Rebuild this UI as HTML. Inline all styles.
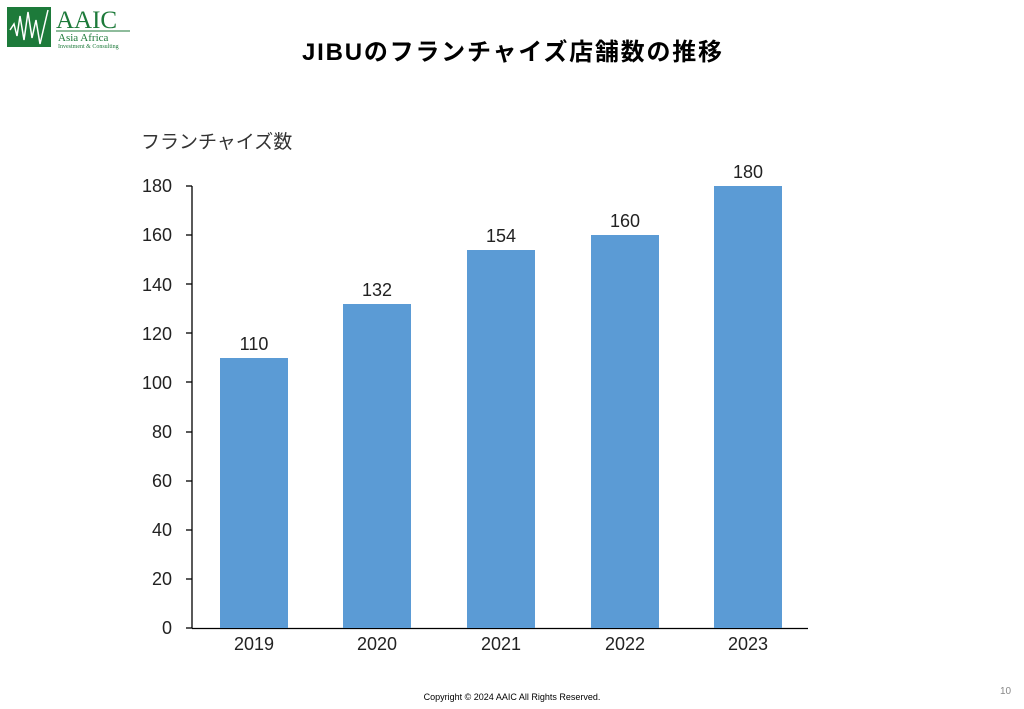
<!DOCTYPE html>
<html><head><meta charset="utf-8"><style>
body{margin:0;width:1024px;height:709px;background:#fff;overflow:hidden;position:relative;font-family:"Liberation Sans","Noto Sans CJK JP",sans-serif}
</style></head><body>
<svg width="1024" height="709" xmlns="http://www.w3.org/2000/svg" style="position:absolute;left:0;top:0">
<rect x="7" y="7" width="44" height="40" fill="#1d7a3a"/>
<polyline points="10,30 14,24 17,36 20,16 24,40 28,12 32,38 36,20 40,44 48,10" fill="none" stroke="#fff" stroke-width="1.5"/>
<text x="56" y="28" font-family="Liberation Serif,serif" font-size="25" fill="#1d7a3a">AAIC</text>
<line x1="56" y1="31" x2="130" y2="31" stroke="#1d7a3a" stroke-width="1"/>
<text x="58" y="41" font-family="Liberation Serif,serif" font-size="11" fill="#1d7a3a">Asia Africa</text>
<text x="58" y="48" font-family="Liberation Serif,serif" font-size="6" fill="#1d7a3a">Investment &amp; Consulting</text>
<text x="512" y="60" text-anchor="middle" font-size="24" font-weight="bold" fill="#000" textLength="420">JIBUのフランチャイズ店舗数の推移</text>
<text x="141" y="148" font-size="19" fill="#333">フランチャイズ数</text>
<g font-size="18" fill="#222" text-anchor="end">
<text x="172" y="634">0</text><text x="172" y="585">20</text><text x="172" y="536">40</text><text x="172" y="487">60</text><text x="172" y="438">80</text><text x="172" y="389">100</text><text x="172" y="340">120</text><text x="172" y="291">140</text><text x="172" y="241">160</text><text x="172" y="192">180</text>
</g>
<g stroke="#000" stroke-width="1.3">
<line x1="192" y1="186" x2="192" y2="628"/>
<line x1="192" y1="628.5" x2="808" y2="628.5"/>
<line x1="186" y1="186" x2="192" y2="186"/><line x1="186" y1="235" x2="192" y2="235"/><line x1="186" y1="284" x2="192" y2="284"/><line x1="186" y1="333" x2="192" y2="333"/><line x1="186" y1="382" x2="192" y2="382"/><line x1="186" y1="432" x2="192" y2="432"/><line x1="186" y1="481" x2="192" y2="481"/><line x1="186" y1="530" x2="192" y2="530"/><line x1="186" y1="579" x2="192" y2="579"/><line x1="186" y1="628" x2="192" y2="628"/>
</g>
<g fill="#5b9bd5">
<rect x="220" y="358" width="68" height="270"/>
<rect x="343" y="304" width="68" height="324"/>
<rect x="467" y="250" width="68" height="378"/>
<rect x="591" y="235" width="68" height="393"/>
<rect x="714" y="186" width="68" height="442"/>
</g>
<g font-size="18" fill="#222" text-anchor="middle">
<text x="254" y="350">110</text><text x="377" y="296">132</text><text x="501" y="242">154</text><text x="625" y="227">160</text><text x="748" y="178">180</text>
<text x="254" y="650">2019</text><text x="377" y="650">2020</text><text x="501" y="650">2021</text><text x="625" y="650">2022</text><text x="748" y="650">2023</text>
</g>
<text x="512" y="700" text-anchor="middle" font-size="9" fill="#000">Copyright © 2024 AAIC All Rights Reserved.</text>
<text x="1000" y="694" font-size="10" fill="#888">10</text>
</svg>
</body></html>
